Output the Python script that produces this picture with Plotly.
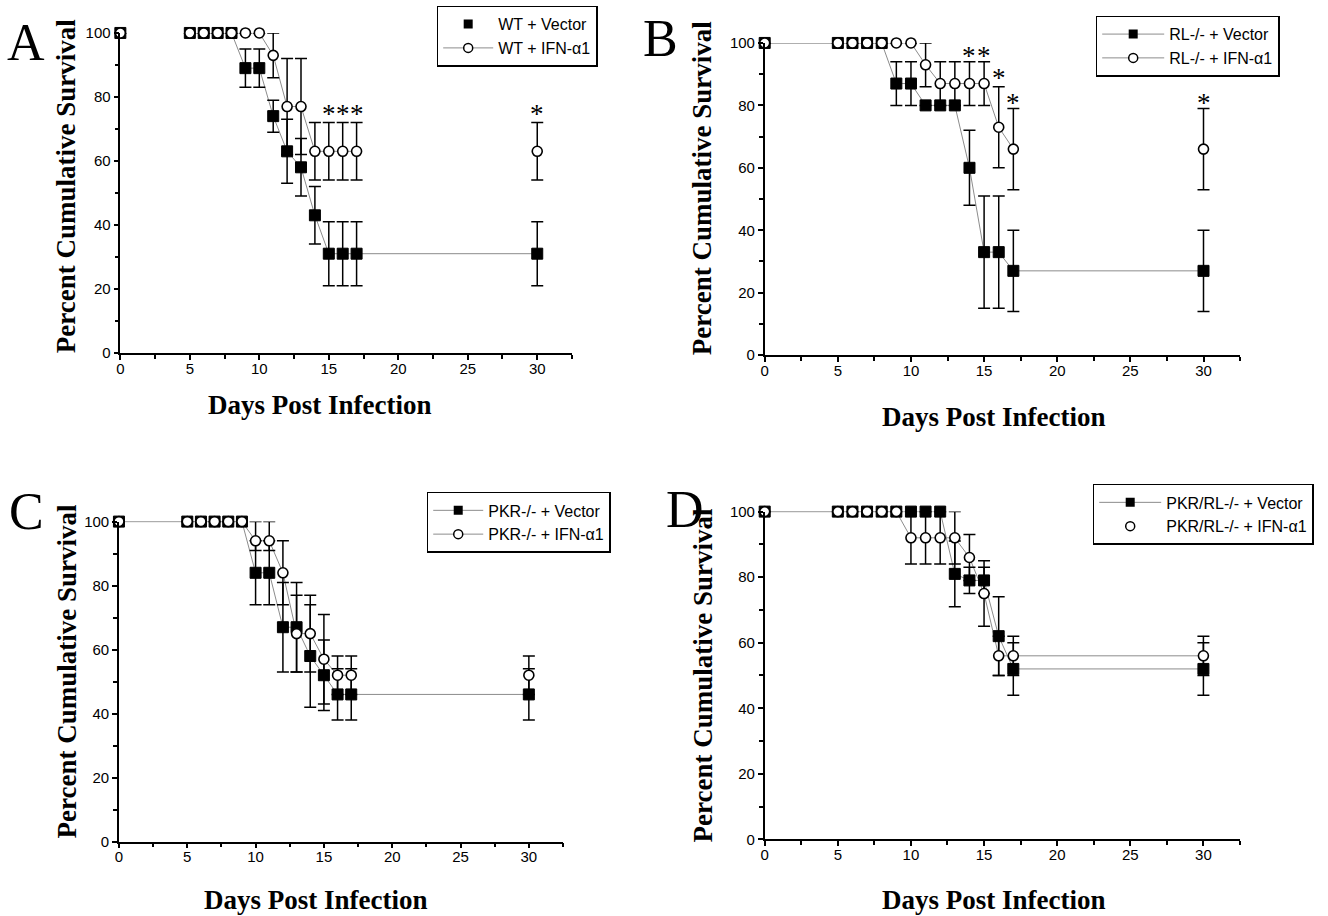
import plotly.graph_objects as go

W, H = 1328, 916

# ---------------- data ----------------
days = [0, 5, 6, 7, 8, 9, 10, 11, 12, 13, 14, 15, 16, 17, 30]
tick_days = [0, 5, 10, 15, 20, 25, 30]
tick_pct = [0, 20, 40, 60, 80, 100]

# Panel A: WT
a_vec = [100, 100, 100, 100, 100, 89, 89, 74, 63, 58, 43, 31, 31, 31, 31]
a_vec_lo = [100, 100, 100, 100, 100, 83, 83, 69, 53, 49, 34, 21, 21, 21, 21]
a_vec_hi = [100, 100, 100, 100, 100, 95, 95, 79, 73, 67, 52, 41, 41, 41, 41]
a_ifn = [100, 100, 100, 100, 100, 100, 100, 93, 77, 77, 63, 63, 63, 63, 63]
a_ifn_lo = [100, 100, 100, 100, 100, 100, 100, 86, 62, 62, 54, 54, 54, 54, 54]
a_ifn_hi = [100, 100, 100, 100, 100, 100, 100, 100, 92, 92, 72, 72, 72, 72, 72]
a_sig_days = [15, 16, 17, 30]
a_sig_y = [76, 76, 76, 76]

# Panel B: RL-/-
b_vec = [100, 100, 100, 100, 100, 87, 87, 80, 80, 80, 60, 33, 33, 27, 27]
b_vec_lo = [100, 100, 100, 100, 100, 80, 80, 80, 80, 80, 48, 15, 15, 14, 14]
b_vec_hi = [100, 100, 100, 100, 100, 94, 94, 80, 80, 80, 72, 51, 51, 40, 40]
b_ifn = [100, 100, 100, 100, 100, 100, 100, 93, 87, 87, 87, 87, 73, 66, 66]
b_ifn_lo = [100, 100, 100, 100, 100, 100, 100, 86, 80, 80, 80, 80, 60, 53, 53]
b_ifn_hi = [100, 100, 100, 100, 100, 100, 100, 100, 94, 94, 94, 94, 86, 79, 79]
b_sig_days = [14, 15, 16, 17, 30]
b_sig_y = [97, 97, 90, 82, 82]

# Panel C: PKR-/-
c_vec = [100, 100, 100, 100, 100, 100, 84, 84, 67, 67, 58, 52, 46, 46, 46]
c_vec_lo = [100, 100, 100, 100, 100, 100, 74, 74, 53, 53, 42, 41, 38, 38, 38]
c_vec_hi = [100, 100, 100, 100, 100, 100, 94, 94, 81, 81, 74, 63, 54, 54, 54]
c_ifn = [100, 100, 100, 100, 100, 100, 94, 94, 84, 65, 65, 57, 52, 52, 52]
c_ifn_lo = [100, 100, 100, 100, 100, 100, 91, 91, 74, 53, 53, 43, 46, 46, 46]
c_ifn_hi = [100, 100, 100, 100, 100, 100, 100, 100, 94, 77, 77, 71, 58, 58, 58]

# Panel D: PKR/RL-/-
d_vec = [100, 100, 100, 100, 100, 100, 100, 100, 100, 81, 79, 79, 62, 52, 52]
d_vec_lo = [100, 100, 100, 100, 100, 100, 100, 100, 100, 71, 75, 75, 50, 44, 44]
d_vec_hi = [100, 100, 100, 100, 100, 100, 100, 100, 100, 91, 83, 85, 74, 60, 60]
d_ifn = [100, 100, 100, 100, 100, 100, 92, 92, 92, 92, 86, 75, 56, 56, 56]
d_ifn_lo = [100, 100, 100, 100, 100, 100, 84, 84, 84, 84, 79, 65, 50, 50, 50]
d_ifn_hi = [100, 100, 100, 100, 100, 100, 100, 100, 100, 100, 93, 83, 62, 62, 62]

# ---------------- layout geometry (target window pixels) ----------------
panels = [
    dict(letter="A", ax="", vec=a_vec, vlo=a_vec_lo, vhi=a_vec_hi,
         ifn=a_ifn, ilo=a_ifn_lo, ihi=a_ifn_hi,
         sig=(a_sig_days, a_sig_y),
         names=("WT + Vector", "WT + IFN-α1"),
         vline=(5, 30), iline=(5, 17), vleg="markers", ileg="lines+markers",
         px=(118.7, 571.7), py=(352.7, 32.3),
         leg=(436, 5), itemwidth=50,
         letter_pos=(24, 42), ytitle=(65, 186), xtitle=(319, 405)),
    dict(letter="B", ax="2", vec=b_vec, vlo=b_vec_lo, vhi=b_vec_hi,
         ifn=b_ifn, ilo=b_ifn_lo, ihi=b_ifn_hi,
         sig=(b_sig_days, b_sig_y),
         names=("RL-/- + Vector", "RL-/- + IFN-α1"),
         vline=(0, 30), iline=(0, 17), vleg="lines+markers", ileg="lines+markers",
         px=(765, 1241.8), py=(355, 42.3),
         leg=(1097, 15), itemwidth=62,
         letter_pos=(660, 38), ytitle=(703, 188), xtitle=(995, 417)),
    dict(letter="C", ax="3", vec=c_vec, vlo=c_vec_lo, vhi=c_vec_hi,
         ifn=c_ifn, ilo=c_ifn_lo, ihi=c_ifn_hi,
         sig=([], []),
         names=("PKR-/- + Vector", "PKR-/- + IFN-α1"),
         vline=(0, 30), iline=(0, 17), vleg="lines+markers", ileg="lines+markers",
         px=(117.3, 562.7), py=(842.3, 521.7),
         leg=(426, 492), itemwidth=50,
         letter_pos=(25, 512), ytitle=(65, 672), xtitle=(315, 901)),
    dict(letter="D", ax="4", vec=d_vec, vlo=d_vec_lo, vhi=d_vec_hi,
         ifn=d_ifn, ilo=d_ifn_lo, ihi=d_ifn_hi,
         sig=([], []),
         names=("PKR/RL-/- + Vector", "PKR/RL-/- + IFN-α1"),
         vline=(0, 30), iline=(0, 30), vleg="lines+markers", ileg="markers",
         px=(765, 1241.7), py=(840, 511.7),
         leg=(1094, 484), itemwidth=62,
         letter_pos=(685, 510), ytitle=(703, 676), xtitle=(995, 901)),
]

LINE_COLOR = "#8c8c8c"
SANS = "Liberation Sans, Arial, sans-serif"
SERIF = "Liberation Serif, Times New Roman, serif"

# observed photograph mapping compensation (screen = 0.983*page + 8.3 vertically)
SY, OY, OX = 0.983, 8.3, 2.0


def fx(x):
    return (x - OX) / W


def fy(y):
    return 1 - ((y - OY) / SY) / H


fig = go.Figure()
layout = dict(width=W, height=H, margin=dict(l=0, r=0, t=0, b=0),
              paper_bgcolor="white", plot_bgcolor="white",
              showlegend=True, annotations=[])


def err(vals, lo, hi):
    return dict(type="data", symmetric=False,
                array=[h - v for v, h in zip(vals, hi)],
                arrayminus=[v - l for v, l in zip(vals, lo)],
                color="black", thickness=1.5, width=6)


for i, p in enumerate(panels):
    xa = "x" + p["ax"]
    ya = "y" + p["ax"]
    lg = "legend" if i == 0 else "legend%d" % (i + 1)

    # connecting lines
    for vals, rng in ((p["vec"], p["vline"]), (p["ifn"], p["iline"])):
        xs = [d for d in days if rng[0] <= d <= rng[1]]
        ys = [v for d, v in zip(days, vals) if rng[0] <= d <= rng[1]]
        fig.add_trace(go.Scatter(x=xs, y=ys, mode="lines", xaxis=xa, yaxis=ya,
                                 line=dict(color=LINE_COLOR, width=1),
                                 showlegend=False, hoverinfo="skip"))
    # vector markers
    fig.add_trace(go.Scatter(x=days, y=p["vec"], mode="markers", xaxis=xa, yaxis=ya,
                             marker=dict(symbol="square", size=11, color="black",
                                         line=dict(color="black", width=1)),
                             error_y=err(p["vec"], p["vlo"], p["vhi"]),
                             cliponaxis=False, showlegend=False))
    # IFN markers
    fig.add_trace(go.Scatter(x=days, y=p["ifn"], mode="markers", xaxis=xa, yaxis=ya,
                             marker=dict(symbol="circle", size=10, color="white",
                                         line=dict(color="black", width=1.6)),
                             error_y=err(p["ifn"], p["ilo"], p["ihi"]),
                             cliponaxis=False, showlegend=False))
    # legend entries
    fig.add_trace(go.Scatter(x=[None], y=[None], mode=p["vleg"], xaxis=xa, yaxis=ya,
                             name=p["names"][0], legend=lg,
                             line=dict(color=LINE_COLOR, width=1),
                             marker=dict(symbol="square", size=9, color="black")))
    fig.add_trace(go.Scatter(x=[None], y=[None], mode=p["ileg"], xaxis=xa, yaxis=ya,
                             name=p["names"][1], legend=lg,
                             line=dict(color=LINE_COLOR, width=1),
                             marker=dict(symbol="circle", size=9, color="white",
                                         line=dict(color="black", width=1.5))))

    x0, x1 = p["px"]
    yb, yt = p["py"]
    axis_common = dict(showline=True, linecolor="black", linewidth=1.5,
                       ticks="outside", ticklen=5, tickwidth=1.5, tickcolor="black",
                       showgrid=False, zeroline=False,
                       tickfont=dict(family=SANS, size=15, color="black"))
    layout["xaxis" + p["ax"]] = dict(
        axis_common, domain=[fx(x0), fx(x1)], range=[0, 32.5], anchor=ya,
        tickmode="array", tickvals=tick_days, ticklabelstandoff=-4,
        minor=dict(dtick=2.5, tick0=0, ticks="outside", ticklen=4, tickwidth=1.5,
                   tickcolor="black"))
    layout["yaxis" + p["ax"]] = dict(
        axis_common, domain=[fy(yb), fy(yt)], range=[0, 100], anchor=xa,
        tickmode="array", tickvals=tick_pct,
        minor=dict(dtick=10, tick0=0, ticks="outside", ticklen=4, tickwidth=1.5,
                   tickcolor="black"))

    layout[lg] = dict(x=fx(p["leg"][0]), y=fy(p["leg"][1]),
                      xanchor="left", yanchor="top",
                      bordercolor="black", borderwidth=1.5, bgcolor="white",
                      font=dict(family=SANS, size=16, color="black"),
                      itemwidth=p["itemwidth"], tracegroupgap=0)

    # significance asterisks
    for d, yv in zip(*p["sig"]):
        layout["annotations"].append(dict(
            x=d, y=yv, xref=xa, yref=ya, text="*", showarrow=False,
            font=dict(family=SERIF, size=27, color="black"),
            xanchor="center", yanchor="middle", yshift=-4))

    # panel letter & axis titles
    lx, ly = p["letter_pos"]
    layout["annotations"].append(dict(
        x=fx(lx), y=fy(ly), xref="paper", yref="paper", text=p["letter"],
        showarrow=False, font=dict(family=SERIF, size=52, color="black"),
        xanchor="center", yanchor="middle"))
    tx, ty = p["ytitle"]
    layout["annotations"].append(dict(
        x=fx(tx), y=fy(ty), xref="paper", yref="paper",
        text="<b>Percent Cumulative Survival</b>", textangle=-90,
        showarrow=False, font=dict(family=SERIF, size=27, color="black"),
        xanchor="center", yanchor="middle"))
    tx, ty = p["xtitle"]
    layout["annotations"].append(dict(
        x=fx(tx), y=fy(ty), xref="paper", yref="paper",
        text="<b>Days Post Infection</b>",
        showarrow=False, font=dict(family=SERIF, size=27, color="black"),
        xanchor="center", yanchor="middle"))

fig.update_layout(**layout)
fig.write_html("out.html", config={"displayModeBar": False},
               post_script="document.body.style.margin='0';"
                           "document.body.style.overflow='hidden';")
